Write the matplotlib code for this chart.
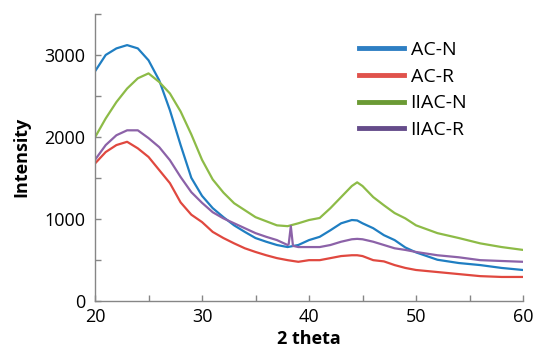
import numpy as np
import matplotlib
matplotlib.use('Agg')
import matplotlib.pyplot as plt
from matplotlib.lines import Line2D
from matplotlib.ticker import MultipleLocator

# 2 theta positions the values were read at
two_theta = [20, 21, 22, 23, 24, 25, 26, 27, 28, 29, 30, 31, 32, 33, 34, 35,
             36, 37, 38, 39, 40, 41, 42, 43, 44, 44.5, 45, 46, 47, 48, 49, 50,
             52, 54, 56, 58, 60]

ac_n = [2800, 3000, 3080, 3120, 3080, 2935, 2690, 2325, 1900, 1500, 1280,
        1130, 1020, 920, 840, 765, 720, 680, 655, 680, 740, 780, 860, 945,
        985, 980, 945, 885, 800, 740, 650, 590, 500, 460, 435, 400, 375]

ac_r = [1675, 1815, 1900, 1940, 1860, 1755, 1595, 1435, 1200, 1050, 960,
        840, 765, 700, 640, 595, 555, 520, 495, 475, 495, 495, 520, 545,
        555, 555, 545, 495, 480, 435, 400, 375, 350, 325, 300, 290, 290]

iiac_n = [1995, 2225, 2425, 2590, 2715, 2775, 2670, 2530, 2310, 2030, 1720,
          1480, 1320, 1190, 1105, 1020, 970, 920, 910, 945, 985, 1010, 1130,
          1265, 1400, 1445, 1400, 1265, 1165, 1070, 1005, 920, 825, 765, 700,
          655, 620]

iiac_r = [1720, 1900, 2020, 2080, 2080, 1985, 1875, 1715, 1510, 1325, 1195,
          1080, 1005, 945, 885, 825, 780, 740, 680, 655, 655, 655, 680, 720,
          750, 755, 750, 720, 680, 640, 620, 595, 555, 530, 495, 485, 475]

# small sharp peak on IIAC-R near 38.3
spike_x = [38.1, 38.3, 38.5]
spike_y = [690, 910, 670]

labels = ['AC-N', 'AC-R', 'IIAC-N', 'IIAC-R']
line_colors = ['#1F7EC2', '#E0483F', '#8DBB47', '#8C62A8']
legend_colors = ['#2E7FC3', '#E0524C', '#6B9A34', '#654C8A']

plt.rcParams['font.family'] = ['Open Sans', 'DejaVu Sans']

fig = plt.figure(figsize=(5.35, 3.56), dpi=100)
ax = fig.add_axes([0.1776, 0.1553, 0.8, 0.8054])

# merge spike into IIAC-R
rx = list(two_theta)
ry = list(iiac_r)
i = rx.index(38) + 1
rx[i:i] = spike_x
ry[i:i] = spike_y

series = [(two_theta, ac_n), (two_theta, ac_r), (two_theta, iiac_n), (rx, ry)]
for (xs, ys), c in zip(series, line_colors):
    ax.plot(xs, ys, color=c, lw=1.6)

ax.set_xlim(20, 60)
ax.set_ylim(0, 3500)
ax.xaxis.set_major_locator(MultipleLocator(10))
ax.xaxis.set_minor_locator(MultipleLocator(5))
ax.yaxis.set_major_locator(MultipleLocator(1000))
ax.yaxis.set_minor_locator(MultipleLocator(500))
ax.tick_params(which='both', direction='in', length=4, width=1, color='#868686',
               labelsize=13, labelcolor='black')
ax.tick_params(axis='x', pad=5)
ax.tick_params(axis='y', pad=7)
for s in ['top', 'right']:
    ax.spines[s].set_visible(False)
for s in ['left', 'bottom']:
    ax.spines[s].set_color('#868686')
    ax.spines[s].set_linewidth(1)

ax.set_xlabel('2 theta', fontsize=13, fontweight='bold', labelpad=3)
ax.set_ylabel('Intensity', fontsize=13, fontweight='bold', labelpad=10)

handles = [Line2D([], [], color=c, lw=3.5) for c in legend_colors]
ax.legend(handles, labels, loc='upper left', bbox_to_anchor=(0.671, 0.885),
          bbox_transform=fig.transFigure, frameon=False, fontsize=14,
          handlelength=2.3, handletextpad=0.35, labelspacing=0.45,
          borderaxespad=0, borderpad=0)

plt.savefig('out.png', dpi=100)
